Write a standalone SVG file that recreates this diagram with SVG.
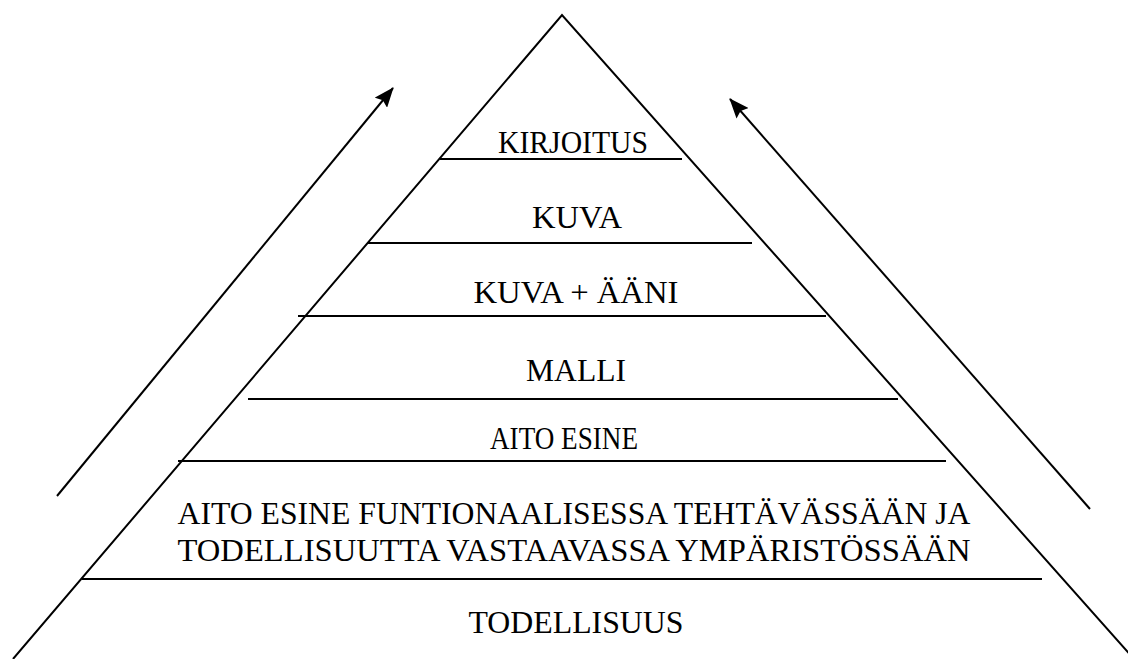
<svg xmlns="http://www.w3.org/2000/svg" width="1128" height="659" viewBox="0 0 1128 659">
<style>
.ln{stroke:#000;stroke-width:2;fill:none}
.hl{stroke:#000;stroke-width:2.2;fill:none}
.t{font-family:"Liberation Serif","Times New Roman",serif;font-size:32px;fill:#000;text-anchor:middle}
</style>
<defs>
<marker id="ah" markerWidth="20" markerHeight="16" refX="19" refY="8" orient="auto" markerUnits="userSpaceOnUse" viewBox="0 0 20 16">
<path d="M0,0 L20,8 L0,16 L3,8 Z" fill="#000"/>
</marker>
</defs>
<rect width="1128" height="659" fill="#fff"/>
<g id="pyramid">
<path class="ln" d="M13,659 L562,15 L1134,659"/>
</g>
<g id="level-kirjoitus">
<line class="hl" x1="440" y1="159" x2="682" y2="159"/>
<text class="t" x="573" y="153" textLength="150" lengthAdjust="spacingAndGlyphs">KIRJOITUS</text>
</g>
<g id="level-kuva">
<line class="hl" x1="368" y1="243" x2="752" y2="243"/>
<text class="t" x="577" y="228" textLength="90" lengthAdjust="spacingAndGlyphs">KUVA</text>
</g>
<g id="level-kuva-aani">
<line class="hl" x1="298" y1="316" x2="826" y2="316"/>
<text class="t" x="576" y="303" textLength="205" lengthAdjust="spacingAndGlyphs">KUVA + ÄÄNI</text>
</g>
<g id="level-malli">
<line class="hl" x1="248" y1="399" x2="898" y2="399"/>
<text class="t" x="576" y="381" textLength="100" lengthAdjust="spacingAndGlyphs">MALLI</text>
</g>
<g id="level-aito-esine">
<line class="hl" x1="178" y1="461" x2="946" y2="461"/>
<text class="t" x="564" y="449" textLength="148" lengthAdjust="spacingAndGlyphs">AITO ESINE</text>
</g>
<g id="level-aito-esine-funktio">
<line class="hl" x1="82" y1="579" x2="1042" y2="579"/>
<text class="t" x="574" y="524" textLength="793" lengthAdjust="spacingAndGlyphs">AITO ESINE FUNTIONAALISESSA TEHTÄVÄSSÄÄN JA</text>
<text class="t" x="574" y="561" textLength="793" lengthAdjust="spacingAndGlyphs">TODELLISUUTTA VASTAAVASSA YMPÄRISTÖSSÄÄN</text>
</g>
<g id="level-todellisuus">
<text class="t" x="576" y="633" textLength="215" lengthAdjust="spacingAndGlyphs">TODELLISUUS</text>
</g>
<g id="connectors">
<line class="ln" x1="57" y1="496" x2="393" y2="88" marker-end="url(#ah)"/>
<line class="ln" x1="1090" y1="509" x2="730" y2="99" marker-end="url(#ah)"/>
</g>
</svg>
